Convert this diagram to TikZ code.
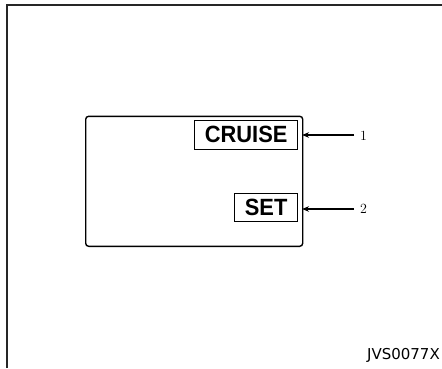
\documentclass[tikz,border=0pt]{standalone}
\usepackage{fontspec}
\setsansfont{Liberation Sans}
\newfontfamily\codefont{DejaVu Sans}
\usetikzlibrary{arrows.meta}
\newcommand{\lamptext}[1]{\scalebox{0.93}[1]{#1}}
\begin{document}
\begin{tikzpicture}[x=1pt,y=1pt,
  frame/.style={draw=black!85,line width=2pt},
  panel/.style={draw=black,line width=1.4pt,rounded corners=3pt},
  lamp/.style={draw=black,line width=1.3pt,inner sep=0pt,font=\sffamily\bfseries\fontsize{23.5}{23.5}\selectfont},
  pointer/.style={draw=black,line width=1.2pt,-{Stealth[length=7pt,width=5.5pt]}},
  num/.style={font=\fontsize{14}{14}\selectfont,inner sep=0pt,anchor=west}]
\useasboundingbox (0,0) rectangle (442,368);
% outer frame (open at right and bottom)
\draw[frame] (7,0) -- (7,363) -- (442,363);
% panel
\node[panel,minimum width=217pt,minimum height=130pt,anchor=south west] (panel) at (85,121) {};
% lamps
\node[lamp,minimum width=103pt,minimum height=29pt,anchor=south west] (cruise) at (194,218) {\lamptext{CRUISE}};
\node[lamp,minimum width=63pt,minimum height=28pt,anchor=south west] (set) at (234,146) {\lamptext{SET}};
% labels
\node[num] (n1) at (360,232) {1};
\node[num] (n2) at (360,159) {2};
\coordinate (t1) at (302,233);
\coordinate (t2) at (302,159);
\draw[pointer] ([xshift=-6pt]n1.west |- t1) -- (t1);
\draw[pointer] ([xshift=-6pt]n2.west |- t2) -- (t2);
% code
\node[font=\codefont\fontsize{15}{15}\selectfont,anchor=south east,inner sep=0pt] (code) at (440,5) {JVS0077X};
\end{tikzpicture}
\end{document}
